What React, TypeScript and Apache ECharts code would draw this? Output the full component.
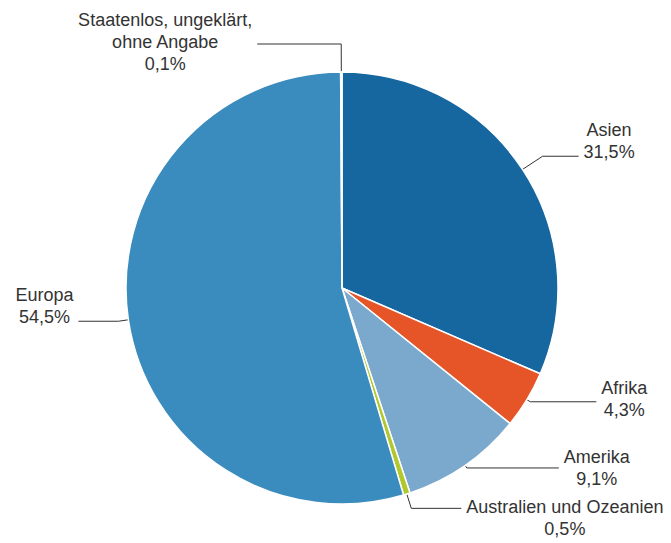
import React, { useEffect, useRef } from "react";
import * as echarts from "echarts";

const categories = [
  "Asien",
  "Afrika",
  "Amerika",
  "Australien und Ozeanien",
  "Europa",
  "Staatenlos, ungeklärt,\nohne Angabe",
];
const shares = [31.5, 4.3, 9.1, 0.5, 54.5, 0.1];
const colors = ["#1666a0", "#e65528", "#7ba8cd", "#b0c82c", "#3a8bbe", "#f09a2c"];
const lineLengths = [24, 4, 3, 15, 10, 28];
const lineLengths2 = [36, 66, 92, 50, 40, 84];
const labelPads = [
  [0, 0, 30, 0],
  [0, 0, 6, 0],
  [0, 0, 0, 0],
  [20, 0, 0, 0],
  [0, 0, 30, 0],
  [0, 0, 4, 0],
];

export default function App() {
  const ref = useRef<HTMLDivElement>(null);
  useEffect(() => {
    document.body.style.margin = "0";
    const chart = echarts.init(ref.current!, null, { renderer: "svg" });
    chart.setOption({
      animation: false,
      backgroundColor: "#ffffff",
      series: [
        {
          type: "pie",
          center: [342, 288],
          radius: 216,
          startAngle: 90,
          clockwise: true,
          avoidLabelOverlap: false,
          itemStyle: { borderColor: "#ffffff", borderWidth: 1.5 },
          label: {
            show: true,
            position: "outside",
            fontFamily: "'Liberation Sans', Arial, sans-serif",
            fontSize: 18,
            formatter: (p: any) => {
              const lines = String(p.name).split("\n");
              const pct = Number(p.value).toFixed(1).replace(".", ",") + "%";
              return [...lines, pct].map((l) => `{t|${l}}`).join("\n");
            },
            rich: {
              t: {
                align: "center",
                fontFamily: "'Liberation Sans', Arial, sans-serif",
                fontSize: 18,
                lineHeight: 22,
                color: "#333333",
              },
            },
            distanceToLabelLine: 5,
          },
          labelLine: {
            show: true,
            lineStyle: { color: "#333333", width: 1 },
          },
          data: categories.map((name, i) => ({
            name,
            value: shares[i],
            itemStyle: { color: colors[i] },
            label: { padding: labelPads[i] },
            labelLine: { length: lineLengths[i], length2: lineLengths2[i] },
          })),
        },
      ],
    });
    return () => chart.dispose();
  }, []);
  return <div ref={ref} style={{ width: 671, height: 543 }} />;
}
